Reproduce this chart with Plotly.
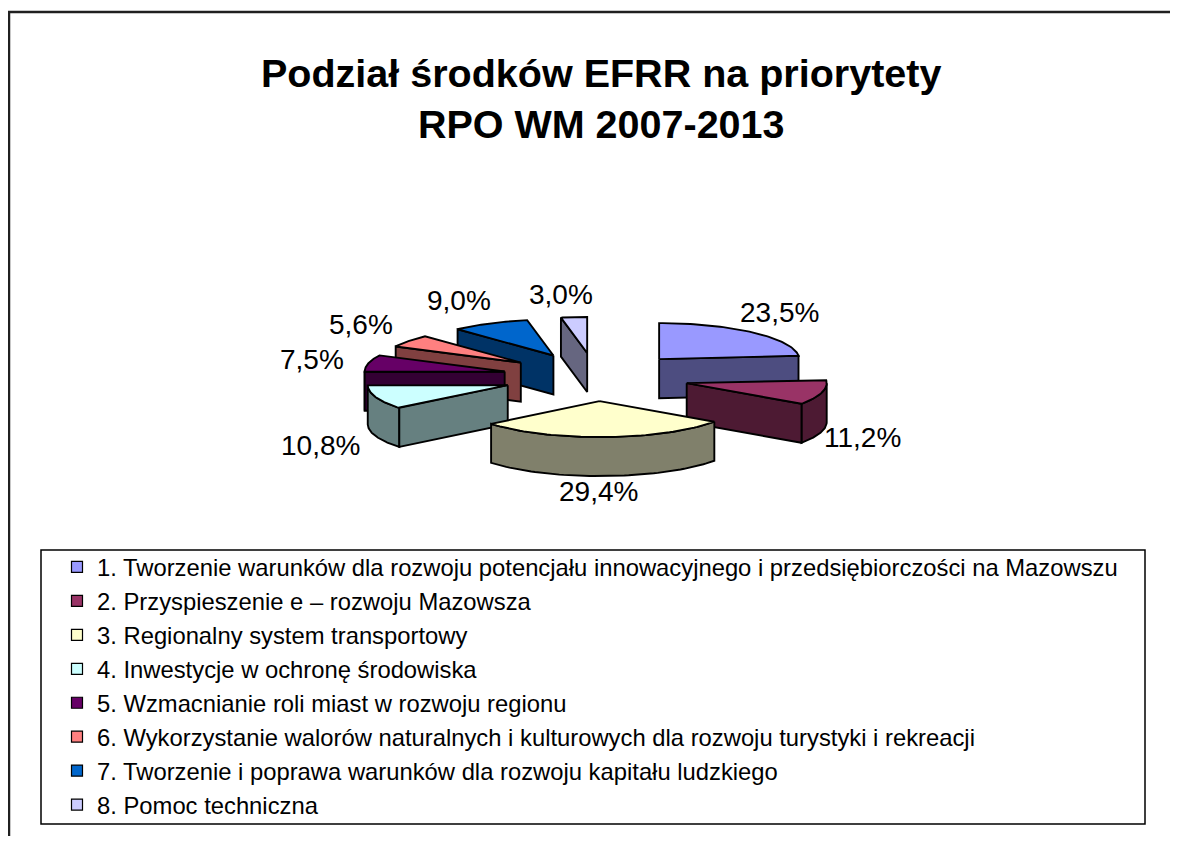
import numpy as np
import plotly.graph_objects as go

# ---------------- data ----------------
categories = [
    "1. Tworzenie warunków dla rozwoju potencjału innowacyjnego i przedsiębiorczości na Mazowszu",
    "2. Przyspieszenie e – rozwoju Mazowsza",
    "3. Regionalny system transportowy",
    "4. Inwestycje w ochronę środowiska",
    "5. Wzmacnianie roli miast w rozwoju regionu",
    "6. Wykorzystanie walorów naturalnych i kulturowych dla rozwoju turystyki i rekreacji",
    "7. Tworzenie i poprawa warunków dla rozwoju kapitału ludzkiego",
    "8. Pomoc techniczna",
]
values = [23.5, 11.2, 29.4, 10.8, 7.5, 5.6, 9.0, 3.0]
top_colors = ["#9999FF", "#993366", "#FFFFCC", "#CCFFFF", "#660066", "#FF8080", "#0066CC", "#CCCCFF"]
side_colors = ["#4D4D80", "#4D1A33", "#80806B", "#668080", "#330033", "#804040", "#003366", "#666680"]
title_text = "Podział środków EFRR na priorytety<br>RPO WM 2007-2013"

# ---------------- geometry / style ----------------
OFF = 8                      # page offset of the figure (body margin)
W, H = 1162, 828
CX, CY = 596, 377            # pie centre (page px)
RX, RY = 140, 36             # ellipse radii
DEPTH = 39
EXPLODE = 0.67
FONT = "Liberation Sans, Arial, sans-serif"
EDGE_W = 1.9

total = sum(values)
fracs = [v / total for v in values]
starts = np.concatenate([[0], np.cumsum(fracs)[:-1]]) * 360
ends = np.cumsum(fracs) * 360


def rim(cx, cy, th, dz=0.0):
    t = np.radians(th)
    return cx + RX * np.sin(t), cy - RY * np.cos(t) + dz


def arc(cx, cy, a, b, dz=0.0, n=60):
    th = np.linspace(a, b, n)
    x, y = rim(cx, cy, th, dz)
    return list(x), list(y)


slices = []
for i, v in enumerate(values):
    s, e = starts[i], ends[i]
    mid = (s + e) / 2
    m = np.radians(mid)
    cx = CX + EXPLODE * RX * np.sin(m)
    cy = CY - EXPLODE * RY * np.cos(m)
    slices.append(dict(i=i, s=s, e=e, mid=mid, cx=cx, cy=cy))

fig = go.Figure()


def poly(xs, ys, fill):
    fig.add_trace(go.Scatter(
        x=xs + [xs[0]], y=ys + [ys[0]], mode="lines", fill="toself",
        fillcolor=fill, line=dict(color="black", width=EDGE_W),
        hoverinfo="skip", showlegend=False))


for sl in sorted(slices, key=lambda d: d["cy"]):
    i, s, e, cx, cy = sl["i"], sl["s"], sl["e"], sl["cx"], sl["cy"]
    side = side_colors[i]
    # outer rim wall (front half only)
    a, b = max(s, 90), min(e, 270)
    if b > a:
        xt, yt = arc(cx, cy, a, b)
        xb, yb = arc(cx, cy, b, a, DEPTH)
        poly(xt + xb, yt + yb, side)
    # radial faces
    if np.sin(np.radians(s)) < -1e-6:
        x1, y1 = rim(cx, cy, s)
        poly([cx, x1, x1, cx], [cy, y1, y1 + DEPTH, cy + DEPTH], side)
    if np.sin(np.radians(e)) > 1e-6:
        x1, y1 = rim(cx, cy, e)
        poly([cx, x1, x1, cx], [cy, y1, y1 + DEPTH, cy + DEPTH], side)
    # top face
    xt, yt = arc(cx, cy, s, e)
    poly([cx] + xt, [cy] + yt, top_colors[i])

# percentage labels (placed outside each slice along its mid angle)
LX, LXS, LY, LYS = 190, -8, 74, 16
LK_TOP, LK_BOT = 12, 20
for sl in slices:
    m = np.radians(sl["mid"])
    sn, cn = np.sin(m), -np.cos(m)
    x = sl["cx"] + LX * sn + LXS
    lk = LK_BOT if cn > 0 else LK_TOP
    y = sl["cy"] + LY * cn + LYS + lk * np.sign(cn) * abs(sn)
    txt = f"{values[sl['i']]:.1f}%".replace(".", ",")
    fig.add_annotation(x=x, y=y, text=txt, showarrow=False,
                       xanchor="center", yanchor="middle",
                       font=dict(family=FONT, size=28, color="black"))

# title
fig.add_annotation(x=601, y=49, xref="x", yref="y", text="<b>" + title_text + "</b>",
                   showarrow=False, xanchor="center", yanchor="top",
                   font=dict(family=FONT, size=39.5, color="black"))

# legend entries
for i, name in enumerate(categories):
    fig.add_trace(go.Scatter(
        x=[None], y=[None], mode="markers", name=name,
        legendgroup=f"g{i}",
        marker=dict(symbol="square", size=11, color=top_colors[i],
                    line=dict(color="black", width=1.2))))


def px_x(p):
    return (p - OFF) / W


def px_y(p):
    return 1 - (p - OFF) / H


fig.update_layout(
    width=W, height=H,
    margin=dict(l=0, r=0, t=0, b=0),
    paper_bgcolor="white", plot_bgcolor="white",
    xaxis=dict(range=[OFF, OFF + W], visible=False, fixedrange=True),
    yaxis=dict(range=[OFF + H, OFF], visible=False, fixedrange=True),
    legend=dict(x=px_x(57), y=px_y(545), xanchor="left", yanchor="top",
                font=dict(family=FONT, size=23.8, color="black"),
                bgcolor="rgba(0,0,0,0)", borderwidth=0, tracegroupgap=0,
                itemclick=False, itemdoubleclick=False),
    showlegend=True,
    shapes=[
        dict(type="path", xref="x", yref="y",
             path=f"M 9 {OFF + H} L 9 12 L {OFF + W} 12",
             line=dict(color="#202020", width=2.5)),
        dict(type="rect", xref="x", yref="y", x0=41, y0=550, x1=1145, y1=824,
             line=dict(color="black", width=1.5)),
    ],
)

fig.write_html("out.html")
